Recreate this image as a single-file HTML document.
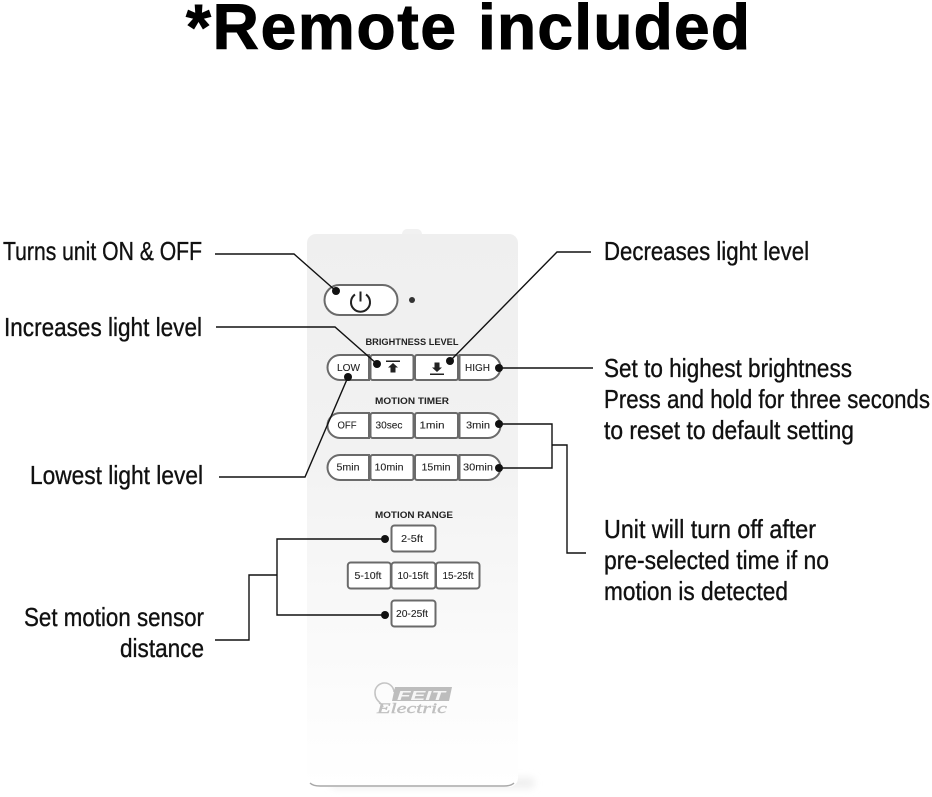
<!DOCTYPE html>
<html><head><meta charset="utf-8"><style>
html,body{margin:0;padding:0;background:#fff;width:932px;height:797px;overflow:hidden}
svg{display:block}
text{font-family:"Liberation Sans",sans-serif}
.t{font-size:64px;font-weight:bold;fill:#000;stroke:#000;stroke-width:1px}
.l{font-size:26px;fill:#111;stroke:#111;stroke-width:.35px}
.b{font-size:10.5px;fill:#222;stroke:#222;stroke-width:.1px;text-anchor:middle}
.h{font-size:9.5px;font-weight:bold;fill:#222;text-anchor:middle}
.ln{fill:none;stroke:#111;stroke-width:1.4}
.bt{fill:#fff;stroke:#6a6a6a;stroke-width:2}
</style></head><body>
<svg width="932" height="797" viewBox="0 0 932 797" xmlns="http://www.w3.org/2000/svg">
<defs>
<linearGradient id="g" x1="0" y1="0" x2="0" y2="1"><stop offset="0" stop-color="#efefef"/><stop offset=".4" stop-color="#f2f2f2"/><stop offset=".7" stop-color="#f9f9f9"/><stop offset="1" stop-color="#ffffff"/></linearGradient>
<filter id="s" x="-20%" y="-100%" width="140%" height="300%"><feGaussianBlur stdDeviation="4"/></filter>
</defs>
<text class="t" x="186" y="49" textLength="270" lengthAdjust="spacing">*Remote</text>
<text class="t" x="478" y="49" textLength="272" lengthAdjust="spacing">included</text>

<!-- remote -->
<rect x="402" y="229" width="20" height="10" rx="5" fill="#f1f1f1"/>
<rect x="330" y="778" width="205" height="10" rx="5" fill="#eeeeee" filter="url(#s)"/>
<rect x="307" y="234" width="211" height="553" rx="9" fill="url(#g)"/>
<path d="M310 783Q313 786 320 786H504Q511 786 514 783" fill="none" stroke="#a8a8a8" stroke-width="1.4"/>

<rect class="bt" x="324.500" y="285" width="73" height="30" rx="15"/>
<path d="M355 294.500a9.500 9.500 0 1 0 11 0M360.500 291.500v10" fill="none" stroke="#222" stroke-width="2"/>
<circle cx="412" cy="300" r="3" fill="#333"/>

<text class="h" x="412" y="345" textLength="93" lengthAdjust="spacingAndGlyphs">BRIGHTNESS LEVEL</text>
<g>
<path class="bt" d="M340 355H369V380H340a12.500 12.500 0 0 1 0-25Z"/>
<rect class="bt" x="370.500" y="355" width="43" height="25" rx="2"/>
<rect class="bt" x="415" y="355" width="43" height="25" rx="2"/>
<path class="bt" d="M459.500 355H488a12.500 12.500 0 0 1 0 25H459.500Z"/>
</g>
<text class="b" x="348.500" y="371" textLength="23" lengthAdjust="spacingAndGlyphs">LOW</text>
<text class="b" x="477.500" y="371" textLength="25" lengthAdjust="spacingAndGlyphs">HIGH</text>
<path d="M386 360.500h14v1.500h-14zM393 363l5 4.500h-2.500v5h-5v-5H388z" fill="#222"/>
<path d="M430 373.500h14v1.500h-14zM437 372l-5-4.500h2.500v-5h5v5h2.500z" fill="#222"/>

<text class="h" x="412" y="404" textLength="74" lengthAdjust="spacingAndGlyphs">MOTION TIMER</text>
<g>
<path class="bt" d="M340 413H369V438H340a12.500 12.500 0 0 1 0-25Z"/>
<rect class="bt" x="370.500" y="413" width="43" height="25" rx="2"/>
<rect class="bt" x="415" y="413" width="43" height="25" rx="2"/>
<path class="bt" d="M459.500 413H488a12.500 12.500 0 0 1 0 25H459.500Z"/>
<path class="bt" d="M340 455H369V480H340a12.500 12.500 0 0 1 0-25Z"/>
<rect class="bt" x="370.500" y="455" width="43" height="25" rx="2"/>
<rect class="bt" x="415" y="455" width="43" height="25" rx="2"/>
<path class="bt" d="M459.500 455H488a12.500 12.500 0 0 1 0 25H459.500Z"/>
</g>
<text class="b" x="347" y="428.500" textLength="19" lengthAdjust="spacingAndGlyphs">OFF</text>
<text class="b" x="389" y="428.500" textLength="27" lengthAdjust="spacingAndGlyphs">30sec</text>
<text class="b" x="432" y="428.500" textLength="25" lengthAdjust="spacingAndGlyphs">1min</text>
<text class="b" x="478" y="428.500" textLength="24" lengthAdjust="spacingAndGlyphs">3min</text>
<text class="b" x="348" y="470.500" textLength="23" lengthAdjust="spacingAndGlyphs">5min</text>
<text class="b" x="389" y="470.500" textLength="29" lengthAdjust="spacingAndGlyphs">10min</text>
<text class="b" x="436" y="470.500" textLength="29" lengthAdjust="spacingAndGlyphs">15min</text>
<text class="b" x="478" y="470.500" textLength="30" lengthAdjust="spacingAndGlyphs">30min</text>

<text class="h" x="414" y="518" textLength="78" lengthAdjust="spacingAndGlyphs">MOTION RANGE</text>
<rect class="bt" x="391.500" y="525.500" width="44" height="26" rx="3"/>
<rect class="bt" x="347.800" y="562.500" width="43" height="26" rx="3"/>
<rect class="bt" x="391.500" y="562.500" width="44" height="26" rx="3"/>
<rect class="bt" x="436" y="562.500" width="43.500" height="26" rx="3"/>
<rect class="bt" x="391.500" y="600.500" width="44" height="26" rx="3"/>
<text class="b" x="412" y="542" textLength="22" lengthAdjust="spacingAndGlyphs">2-5ft</text>
<text class="b" x="368" y="579" textLength="27" lengthAdjust="spacingAndGlyphs">5-10ft</text>
<text class="b" x="413" y="579" textLength="31" lengthAdjust="spacingAndGlyphs">10-15ft</text>
<text class="b" x="458" y="579" textLength="31" lengthAdjust="spacingAndGlyphs">15-25ft</text>
<text class="b" x="412" y="617" textLength="32" lengthAdjust="spacingAndGlyphs">20-25ft</text>

<!-- logo -->
<path d="M383 707c-1-4-8-6-8-14a9.500 9.500 0 0 1 19-1" fill="none" stroke="#c4c4c4" stroke-width="1.6"/>
<path d="M395 687H452L449 701H392Z" fill="#bdbdbd"/>
<text x="397" y="700" font-size="13" font-weight="bold" fill="#f6f6f6" font-style="italic" textLength="48" lengthAdjust="spacingAndGlyphs">FEIT</text>
<text x="377" y="713" style="font-family:'Liberation Serif',serif;font-size:15px;font-style:italic;fill:#c0c0c0;stroke:#c0c0c0;stroke-width:.4px" textLength="70" lengthAdjust="spacingAndGlyphs">Electric</text>

<!-- connectors -->
<path class="ln" d="M215 254H294L336 291"/>
<path class="ln" d="M216 327H335L377 364"/>
<path class="ln" d="M219 477H305L348 377"/>
<path class="ln" d="M591 252H557L450 361"/>
<path class="ln" d="M593 368H499"/>
<path class="ln" d="M499 424H552V468H499M552 445H567V553H586"/>
<path class="ln" d="M215 640H249V575H277M385 539H277V615H385"/>
<g fill="#111">
<circle cx="336" cy="291" r="4"/><circle cx="377" cy="364" r="4"/><circle cx="348" cy="377" r="4"/>
<circle cx="450" cy="361" r="4"/><circle cx="499" cy="368" r="4"/><circle cx="499" cy="424" r="4"/>
<circle cx="499" cy="468" r="4"/><circle cx="385" cy="539" r="4"/><circle cx="385" cy="615" r="4"/>
</g>

<!-- labels -->
<text class="l" x="3" y="260" textLength="199" lengthAdjust="spacingAndGlyphs">Turns unit ON &amp; OFF</text>
<text class="l" x="4" y="336" textLength="198" lengthAdjust="spacingAndGlyphs">Increases light level</text>
<text class="l" x="30" y="484" textLength="173" lengthAdjust="spacingAndGlyphs">Lowest light level</text>
<text class="l" x="24" y="626" textLength="180" lengthAdjust="spacingAndGlyphs">Set motion sensor</text>
<text class="l" x="120" y="657" textLength="84" lengthAdjust="spacingAndGlyphs">distance</text>
<text class="l" x="604" y="260" textLength="205" lengthAdjust="spacingAndGlyphs">Decreases light level</text>
<text class="l" x="604" y="377" textLength="248" lengthAdjust="spacingAndGlyphs">Set to highest brightness</text>
<text class="l" x="604" y="408" textLength="326" lengthAdjust="spacingAndGlyphs">Press and hold for three seconds</text>
<text class="l" x="604" y="439" textLength="250" lengthAdjust="spacingAndGlyphs">to reset to default setting</text>
<text class="l" x="604" y="538" textLength="212" lengthAdjust="spacingAndGlyphs">Unit will turn off after</text>
<text class="l" x="604" y="569" textLength="225" lengthAdjust="spacingAndGlyphs">pre-selected time if no</text>
<text class="l" x="604" y="600" textLength="184" lengthAdjust="spacingAndGlyphs">motion is detected</text>
</svg>
</body></html>
